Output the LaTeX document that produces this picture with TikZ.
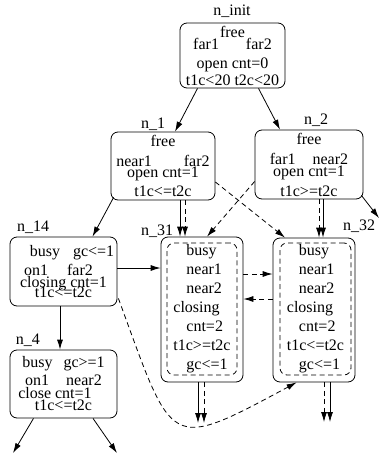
\documentclass[tikz,border=0pt]{standalone}
\usepackage{fontspec}
\setmainfont{Liberation Serif}
\usetikzlibrary{arrows.meta,positioning,calc}

\tikzset{
  state/.style={draw, rounded corners=7pt, line width=0.8pt, inner sep=0pt,
    align=center, font=\fontsize{16}{19}\selectfont},
  inbox/.style={state, dash pattern=on 5pt off 3.5pt, align=left},
  tag/.style={anchor=base, inner sep=0pt, font=\fontsize{16}{19}\selectfont},
  tr/.style={line width=0.8pt, -{Latex[length=10pt,width=6pt]}},
  dtr/.style={tr, dash pattern=on 5pt off 3.5pt},
}

\begin{document}
\begin{tikzpicture}[x=1pt,y=-1pt]
  \useasboundingbox (0,0) rectangle (384,455);
  % state labels
  \node[tag] (lninit) at (232,16) {n\_init};
  \node[tag] (ln1) at (153,128) {n\_1};
  \node[tag] (ln2) at (316,124) {n\_2};
  \node[tag] (ln14) at (33,231) {n\_14};
  \node[tag] (ln31) at (157,235) {n\_31};
  \node[tag] (ln32) at (359,230) {n\_32};
  \node[tag] (ln4) at (28,344) {n\_4};
  % states
  \node[state,minimum width=105pt,minimum height=65pt] (ninit) at (232.5,55.5)
    {free\\[-7pt] far1\hspace{27pt}far2\\ open cnt=0\\[-2pt] t1c<20 t2c<20};
  \node[state,minimum width=104pt,minimum height=68pt] (n1) at (163,166)
    {free\\[1pt] near1\hspace{32pt}far2\\[-8pt] open cnt=1\\ t1c<=t2c};
  \node[state,minimum width=108pt,minimum height=69pt] (n2) at (309,164.5)
    {free\\[1pt] far1\hspace{17pt}near2\\[-7pt] open cnt=1\\[1pt] t1c>=t2c};
  \node[state,minimum width=107pt,minimum height=69pt] (n14) at (63.5,271.5)
    {\rule{17pt}{0pt}busy\hspace{13pt}gc<=1\\ on1\hspace{19pt}far2\rule{10pt}{0pt}\\[-7pt]
     closing cnt=1\\[-9pt] t1c<=t2c};
  \node[state,minimum width=107pt,minimum height=68pt] (n4) at (63.5,384)
    {busy\hspace{11pt}gc>=1\\[-1pt] on1\hspace{17pt}near2\\[-6pt]
     close cnt=1\rule{17pt}{0pt}\\[-7pt] t1c<=t2c};
  \node[state,minimum width=82pt,minimum height=145pt] (n31) at (202,309.5) {};
  \node[inbox,minimum width=70pt,minimum height=132pt] (n31in) at (202,309)
    {\hspace*{13pt}busy\\ \hspace*{13pt}near1\\ \hspace*{13pt}near2\\ closing\\
     \hspace*{13pt}cnt=2\\ t1c>=t2c\\ \hspace*{13pt}gc<=1};
  \node[state,minimum width=82pt,minimum height=144pt] (n32) at (314,310) {};
  \node[inbox,minimum width=71pt,minimum height=132pt] (n32in) at (315.5,309)
    {\hspace*{12pt}busy\\ \hspace*{12pt}near1\\ \hspace*{12pt}near2\\ closing\\
     \hspace*{12pt}cnt=2\\ t1c<=t2c\\ \hspace*{12pt}gc<=1};
  % loose ends
  \coordinate (o2) at (379,218);
  \coordinate (o4a) at (13,453);
  \coordinate (o4b) at (117,453);
  \coordinate (o31a) at (198,423);
  \coordinate (o31b) at (204,423);
  \coordinate (o32a) at (324,422);
  \coordinate (o32b) at (330,422);
  % transitions
  \draw[tr] ([xshift=-35pt]ninit.south) -- ([xshift=12pt]n1.north);
  \draw[tr] ([xshift=26pt]ninit.south) -- ([xshift=-29pt]n2.north);
  \draw[tr] ([xshift=3pt,yshift=3pt]n1.south west) -- ([xshift=29pt]n14.north);
  \draw[tr] ([xshift=-2pt,yshift=4pt]n2.south east) -- (o2);
  \draw[tr] ([xshift=17pt]n1.south) -- ([xshift=-22pt]n31.north);
  \draw[dtr] ([xshift=22pt]n1.south) -- ([xshift=-17pt]n31.north);
  \draw[dtr] ([xshift=10pt]n2.south) -- ([xshift=5pt]n32.north);
  \draw[tr] ([xshift=14pt]n2.south) -- ([xshift=9pt]n32.north);
  \draw[dtr] ([yshift=-16pt]n1.east) -- ([xshift=-29pt]n32.north);
  \draw[dtr] ([yshift=-17pt]n2.west) -- ([xshift=5pt]n31.north);
  \draw[tr] ([yshift=3.5pt]n14.east) -- ([yshift=41.5pt]n31.west);
  \draw[dtr] ([yshift=35.5pt]n31.east) -- ([yshift=36pt]n32.west);
  \draw[dtr] ([yshift=11pt]n32.west) -- ([yshift=10.5pt]n31.east);
  \draw[tr] ([xshift=-3.5pt]n14.south) -- ([xshift=-3.5pt]n4.north);
  \draw[tr] ([xshift=-30pt]n4.south) -- (o4a);
  \draw[tr] ([xshift=29.5pt]n4.south) -- (o4b);
  \draw[tr] ([xshift=-4pt]n31.south) -- (o31a);
  \draw[dtr] ([xshift=2pt]n31.south) -- (o31b);
  \draw[dtr] ([xshift=10pt]n32.south) -- (o32a);
  \draw[tr] ([xshift=16pt]n32.south) -- (o32b);
  \draw[dtr] ([xshift=1pt,yshift=8pt]n14.south east) .. controls +(55,150) and +(-130,70) .. ([xshift=24pt]n32.south west);
\end{tikzpicture}
\end{document}
